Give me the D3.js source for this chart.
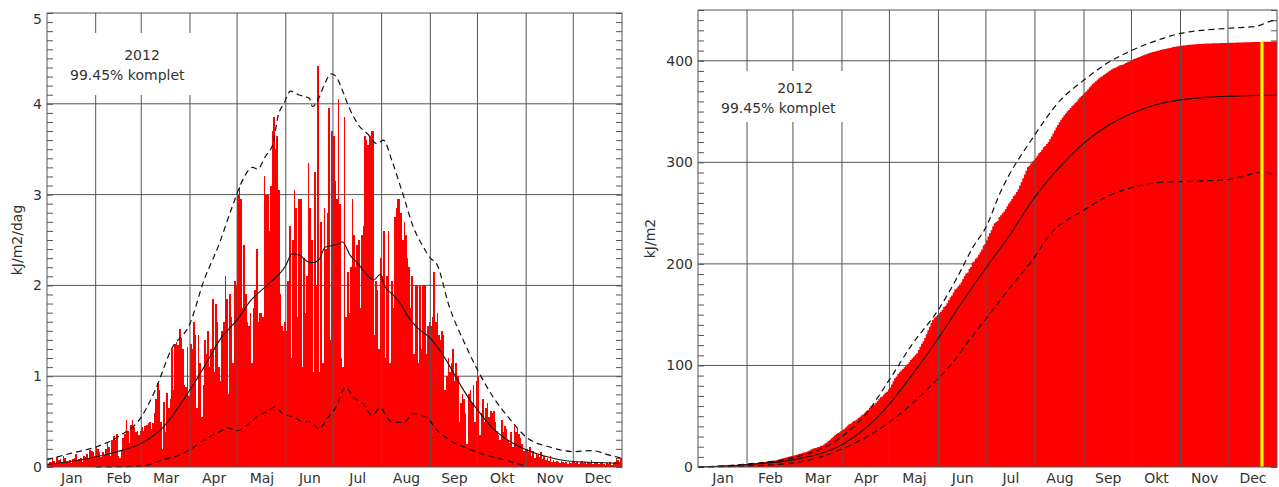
<!DOCTYPE html>
<html>
<head>
<meta charset="utf-8">
<script src="https://d3js.org/d3.v7.min.js"></script>
<style>
  body { margin: 0; background: #fff; }
  svg { display: block; }
</style>
</head>
<body>
<svg width="1279" height="487"></svg>
<script>
// month labels and lengths (2012 is a leap year)
var months = ["Jan", "Feb", "Mar", "Apr", "Maj", "Jun", "Jul", "Aug", "Sep", "Okt", "Nov", "Dec"];
var monthDays = [31, 29, 31, 30, 31, 30, 31, 31, 30, 31, 30, 31];

// daily values, kJ/m2/dag
var jan = [0.03,0.06,0.05,0.10,0.07,0.04,0.11,0.08,0.09,0.06,0.12,0.10,0.07,0.05,0.08,0.04,0.09,0.10,0.14,0.07,0.09,0.10,0.06,0.12,0.11,0.14,0.10,0.19,0.18,0.16,0.12];
var feb = [0.22,0.20,0.17,0.11,0.16,0.13,0.20,0.28,0.22,0.12,0.30,0.34,0.30,0.36,0.12,0.10,0.18,0.32,0.36,0.52,0.40,0.26,0.46,0.52,0.44,0.38,0.40,0.35,0.40];
var mar = [0.44,0.40,0.45,0.46,0.48,0.50,0.42,0.48,0.60,0.75,0.92,0.85,0.50,0.20,0.72,0.38,0.82,0.65,0.75,1.30,0.85,1.35,1.38,1.34,1.52,1.42,1.30,0.90,0.88,1.32,0.78];
var apr = [1.35,1.30,1.60,1.45,0.65,1.45,1.15,0.55,0.90,1.40,1.25,1.50,1.10,1.30,1.85,1.05,1.80,1.60,1.10,0.95,1.50,1.60,2.10,1.85,0.80,1.90,1.65,1.15,2.05,2.00];
var may = [3.00,3.08,2.95,1.75,2.45,1.90,1.60,1.55,1.70,1.15,1.75,1.95,2.40,1.60,1.70,1.70,1.65,3.20,3.00,3.00,2.60,3.10,3.70,3.85,3.50,3.65,3.05,1.90,1.55,1.50,1.60];
var jun = [1.50,2.05,2.65,1.20,2.50,3.05,2.85,1.65,2.95,2.95,1.10,2.30,1.70,2.10,3.35,2.85,2.50,1.05,3.25,2.00,4.42,1.05,2.70,1.15,2.85,2.40,2.80,3.95,1.40,3.70];
var jul = [3.65,3.15,2.95,4.05,2.90,1.20,1.10,3.85,1.65,2.15,1.70,2.20,2.95,2.55,2.20,2.45,2.50,1.75,2.55,2.65,3.65,3.60,3.55,3.65,3.70,3.70,1.45,2.05,1.95,1.30,2.30];
var aug = [2.10,2.60,1.20,2.10,2.60,1.15,2.05,1.75,2.75,2.85,2.95,2.95,2.80,2.50,2.70,2.55,2.30,2.20,1.75,2.10,1.25,2.00,2.00,1.15,2.00,1.30,2.00,2.00,1.25,1.55,1.60];
var sep = [1.55,1.65,2.15,1.60,1.70,1.45,1.40,1.50,1.45,0.85,1.00,1.20,1.05,1.15,1.30,0.95,1.15,1.00,0.50,0.70,0.80,0.75,0.60,0.25,0.80,0.85,0.70,0.90,0.50,0.95];
var okt = [1.00,0.35,0.60,0.75,0.50,0.65,0.70,0.55,0.62,0.60,0.62,0.50,0.40,0.35,0.30,0.52,0.38,0.45,0.42,0.30,0.26,0.38,0.22,0.45,0.38,0.42,0.36,0.32,0.25,0.18,0.20];
var nov = [0.20,0.17,0.22,0.12,0.18,0.10,0.15,0.13,0.11,0.16,0.09,0.12,0.08,0.10,0.07,0.12,0.06,0.08,0.05,0.07,0.06,0.04,0.07,0.05,0.04,0.06,0.03,0.05,0.04,0.06];
var dec = [0.05,0.04,0.06,0.03,0.05,0.07,0.04,0.06,0.03,0.05,0.04,0.08,0.03,0.05,0.04,0.06,0.03,0.04,0.05,0.03,0.02,0.04,0.03,0.05,0.02,0.04,0.06,0.09,0.08,0.05,0.10];

// normal curves for the daily panel (day of year, value)
var meanDays = [0,15,31,45,60,74,91,100,110,121,130,140,152,156,161,166,169,173,177,182,186,188,193,198,203,208,212,215,220,225,230,236,244,249,254,259,264,268,274,283,293,305,319,335,350,365];
var meanVals = [0.03,0.06,0.11,0.17,0.26,0.44,0.85,1.10,1.40,1.62,1.84,2.00,2.22,2.35,2.33,2.26,2.25,2.28,2.42,2.44,2.46,2.48,2.33,2.24,2.13,2.06,2.12,1.99,1.90,1.80,1.65,1.53,1.42,1.31,1.18,1.03,0.88,0.77,0.63,0.44,0.30,0.19,0.11,0.06,0.05,0.04];
var maxDays = [0,15,31,45,60,69,79,91,100,109,118,124,131,134,139,144,147,151,155,160,167,169,173,176,181,184,188,192,199,204,210,214,220,227,233,240,244,248,256,267,274,284,295,305,320,335,347,358,365];
var maxVals = [0.08,0.15,0.22,0.33,0.55,0.85,1.29,1.58,2.06,2.43,2.87,3.14,3.30,3.28,3.42,3.57,3.86,4.01,4.14,4.10,4.06,3.97,4.06,4.19,4.33,4.30,4.15,3.97,3.75,3.67,3.56,3.60,3.35,2.98,2.65,2.41,2.30,2.24,1.77,1.32,1.07,0.77,0.52,0.33,0.22,0.17,0.18,0.13,0.10];
var minDays = [31,60,74,84,91,100,110,115,121,130,135,140,145,150,157,163,168,173,179,184,190,195,201,207,212,219,227,233,242,248,256,267,276,284,295,305];
var minVals = [0.00,0.01,0.08,0.13,0.19,0.30,0.39,0.43,0.40,0.50,0.57,0.61,0.66,0.59,0.55,0.50,0.50,0.42,0.55,0.66,0.88,0.77,0.70,0.57,0.65,0.50,0.49,0.59,0.54,0.41,0.30,0.21,0.15,0.11,0.06,0.01];

// normal curves for the accumulated panel, kJ/m2
var cumMeanDays = [0,31,60,91,105,121,135,152,165,182,196,213,229,244,258,274,290,305,320,335,345,355,366];
var cumMeanVals = [0,2.5,7,22,37,62,90,127,158,196,226,266,296,319,335,348,357,361.5,364,365,365.5,366,366];
var cumMaxDays = [0,31,60,91,105,121,135,152,165,174,182,191,212,229,244,258,274,290,305,335,353,362,366];
var cumMaxVals = [0,3,9,30,50,86,120,155,190,217,236,270,325,361,381,397,410,420,427,432,434,439,440];
var cumMinDays = [0,31,60,90,120,151,159,172,180,200,212,222,244,258,274,290,305,335,344,355,366];
var cumMinVals = [0,1,4,17,43,86,99,126,142,182,205,228,253,266,275,280,281,283,286,290,288];

var markDay = 356;          // yellow marker, 22 Dec
var yearText = "2012";
var completeText = "99.45% komplet";

var daily = jan.concat(feb, mar, apr, may, jun, jul, aug, sep, okt, nov, dec);
var cum = [0];
daily.forEach(function(v, i) { cum.push(cum[i] + v); });

var monthStart = [0];
monthDays.forEach(function(n, i) { monthStart.push(monthStart[i] + n); });

var svg = d3.select("svg");
var font = "'DejaVu Sans', sans-serif";
var textCol = "#333";
var gridCol = "#555";

function panel(box, yMax, yStep, minorStep, title, titleX, note) {
  var x = d3.scaleLinear().domain([0, 366]).range([box.left, box.right]);
  var y = d3.scaleLinear().domain([0, yMax]).range([box.bottom, box.top]);
  var L = {};
  ["under", "data", "vgrid", "note", "lines", "frame", "text"].forEach(function(k) {
    L[k] = svg.append("g");
  });

  var major = d3.range(yStep, yMax, yStep);
  L.under.selectAll("line.h").data(major).enter().append("line")
      .attr("x1", box.left).attr("x2", box.right)
      .attr("y1", function(d) { return y(d); })
      .attr("y2", function(d) { return y(d); })
      .attr("stroke", gridCol);

  // small ticks on both sides, pointing inward
  var minor = d3.range(0, yMax + 1e-9, minorStep);
  L.under.append("g")
      .attr("transform", "translate(" + box.left + ",0)")
      .call(d3.axisRight(y).tickValues(minor).tickSize(6).tickFormat(""))
      .call(function(g) { g.select(".domain").remove(); g.selectAll("line").attr("stroke", gridCol); });
  L.under.append("g")
      .attr("transform", "translate(" + box.right + ",0)")
      .call(d3.axisLeft(y).tickValues(minor).tickSize(6).tickFormat(""))
      .call(function(g) { g.select(".domain").remove(); g.selectAll("line").attr("stroke", gridCol); });

  L.vgrid.selectAll("line").data(monthStart.slice(1, 12)).enter().append("line")
      .attr("x1", function(d) { return x(d); })
      .attr("x2", function(d) { return x(d); })
      .attr("y1", box.top).attr("y2", box.bottom)
      .attr("stroke", gridCol);

  // note box
  L.note.append("rect")
      .attr("x", note.x).attr("y", note.y).attr("width", note.w).attr("height", note.h)
      .attr("fill", "#fff");
  L.note.append("text")
      .attr("x", note.yearX).attr("y", note.y + note.h / 2 - 4)
      .attr("text-anchor", "middle")
      .text(yearText);
  L.note.append("text")
      .attr("x", note.x + 5).attr("y", note.y + note.h / 2 + 16)
      .text(completeText);
  L.note.selectAll("text").attr("font-family", font).attr("font-size", "14px").attr("fill", textCol);

  L.frame.append("rect")
      .attr("x", box.left).attr("y", box.top)
      .attr("width", box.right - box.left).attr("height", box.bottom - box.top)
      .attr("fill", "none").attr("stroke", gridCol);

  // y labels
  var yAxis = L.text.append("g")
      .attr("transform", "translate(" + box.left + ",0)")
      .call(d3.axisLeft(y).tickValues(d3.range(0, yMax + 1e-9, yStep))
        .tickFormat(d3.format("d")).tickSize(0).tickPadding(5));
  yAxis.select(".domain").remove();
  yAxis.selectAll("text").attr("font-size", "14px").attr("font-family", font).attr("fill", textCol);
  // the label at the very top sits a little lower
  yAxis.selectAll(".tick").filter(function(d) { return d === yMax; })
      .select("text").attr("dy", "0.75em");

  // month names
  var xAxis = L.text.append("g")
      .attr("transform", "translate(0," + box.bottom + ")")
      .call(d3.axisBottom(x)
        .tickValues(months.map(function(m, i) { return (monthStart[i] + monthStart[i + 1]) / 2; }))
        .tickFormat(function(d, i) { return months[i]; })
        .tickSize(0).tickPadding(6));
  xAxis.select(".domain").remove();
  xAxis.selectAll("text").attr("font-size", "14px").attr("font-family", font).attr("fill", textCol);

  L.text.append("text")
      .attr("transform", "translate(" + titleX + "," + ((box.top + box.bottom) / 2) + ") rotate(-90)")
      .attr("text-anchor", "middle")
      .attr("dy", "0.35em")
      .attr("font-size", "14px").attr("font-family", font).attr("fill", textCol)
      .text(title);

  return { x: x, y: y, L: L };
}

function curve(p, days, vals, dashed, width) {
  var line = d3.line()
      .x(function(d) { return p.x(d[0]); })
      .y(function(d) { return p.y(d[1]); })
      .curve(d3.curveMonotoneX);
  p.L.lines.append("path")
      .datum(d3.zip(days, vals))
      .attr("d", line)
      .attr("fill", "none")
      .attr("stroke", "#111")
      .attr("stroke-width", width)
      .attr("stroke-dasharray", dashed ? "6,4" : null);
}

// ---- left: daily values ----
var left = panel({ left: 47, right: 622, top: 13, bottom: 467 }, 5, 1, 0.1,
  "kJ/m2/dag", 17, { x: 65, y: 33, w: 152, h: 62, yearX: 142 });

left.L.data.selectAll("rect").data(daily).enter().append("rect")
    .attr("x", function(d, i) { return left.x(i); })
    .attr("width", left.x(1) - left.x(0))
    .attr("y", function(d) { return left.y(d); })
    .attr("height", function(d) { return left.y(0) - left.y(d); })
    .attr("fill", "#ff0000")
    .attr("shape-rendering", "crispEdges");

curve(left, maxDays, maxVals, true, 1.2);
curve(left, minDays, minVals, true, 1.2);
curve(left, meanDays, meanVals, false, 1.1);

// ---- right: accumulated ----
var right = panel({ left: 698, right: 1277, top: 10, bottom: 467 }, 450, 100, 10,
  "kJ/m2", 650, { x: 716, y: 71, w: 156, h: 51, yearX: 795 });

right.L.data.append("path")
    .datum(cum)
    .attr("d", d3.area()
      .x(function(d, i) { return right.x(i); })
      .y0(right.y(0))
      .y1(function(d) { return right.y(d); })
      .curve(d3.curveStepAfter))
    .attr("fill", "#ff0000");

curve(right, cumMaxDays, cumMaxVals, true, 1.2);
curve(right, cumMinDays, cumMinVals, true, 1.2);
curve(right, cumMeanDays, cumMeanVals, false, 1.1);

var mx = right.x(markDay + 0.5);
[["#e09a00", 4], ["#ffff00", 2]].forEach(function(s) {
  right.L.lines.append("line")
      .attr("x1", mx).attr("x2", mx)
      .attr("y1", right.y(0)).attr("y2", right.y(cum[markDay + 1]))
      .attr("stroke", s[0]).attr("stroke-width", s[1]);
});
</script>
</body>
</html>
